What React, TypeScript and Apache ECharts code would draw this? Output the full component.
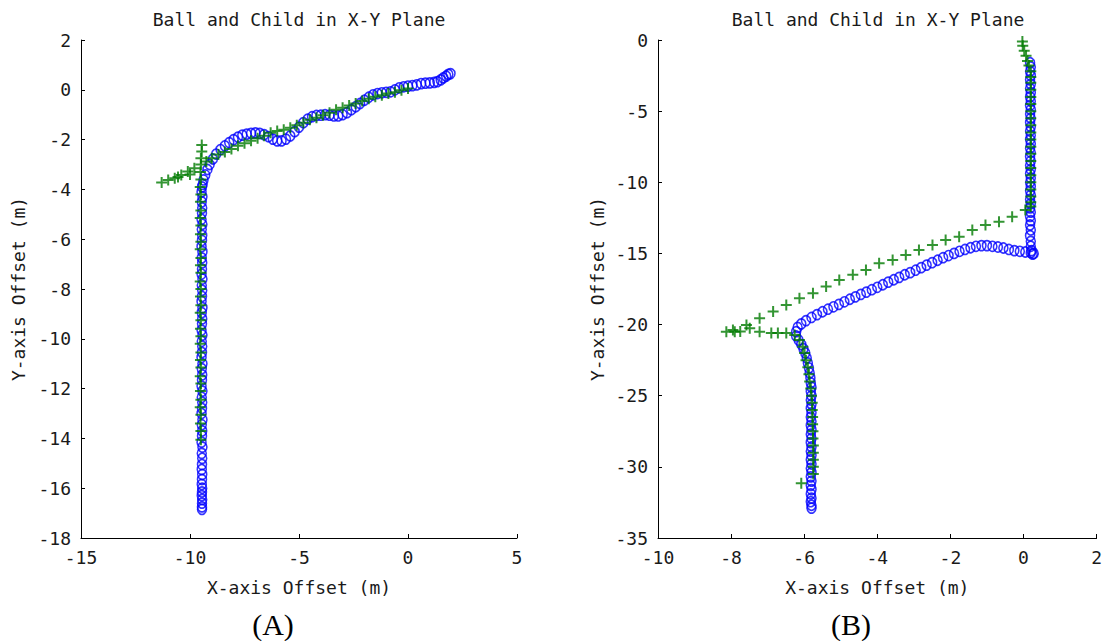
import React, { useEffect, useRef } from "react";
import * as echarts from "echarts";

const titleText = "Ball and Child in X-Y Plane";
const xName = "X-axis Offset (m)";
const yName = "Y-axis Offset (m)";
const captionA = "(A)";
const captionB = "(B)";

// Panel A – ball (blue circles)
const ballA: [number, number][] = [
  [1.95, 0.65], [1.85, 0.62], [1.75, 0.55], [1.62, 0.48], [1.5, 0.4], [1.35, 0.33], [1.2, 0.3],
  [1.0, 0.28], [0.8, 0.27], [0.6, 0.25], [0.4, 0.2], [0.2, 0.17], [0.0, 0.15], [-0.2, 0.12],
  [-0.4, 0.08], [-0.6, 0.0], [-0.8, -0.08], [-1.0, -0.1], [-1.2, -0.12], [-1.4, -0.15],
  [-1.6, -0.2], [-1.8, -0.3], [-2.0, -0.42], [-2.2, -0.55], [-2.4, -0.68], [-2.6, -0.8],
  [-2.8, -0.92], [-3.0, -1.0], [-3.2, -1.05], [-3.4, -1.05], [-3.6, -1.02], [-3.8, -1.0],
  [-4.0, -1.02], [-4.2, -1.03], [-4.4, -1.08], [-4.6, -1.18], [-4.8, -1.32], [-5.0, -1.5],
  [-5.2, -1.68], [-5.4, -1.85], [-5.6, -1.98], [-5.8, -2.05], [-6.0, -2.05], [-6.2, -1.98],
  [-6.4, -1.88], [-6.6, -1.8], [-6.8, -1.75], [-7.0, -1.73], [-7.2, -1.75], [-7.4, -1.78],
  [-7.6, -1.82], [-7.8, -1.9], [-8.0, -2.0], [-8.2, -2.12], [-8.4, -2.25], [-8.6, -2.4],
  [-8.8, -2.58], [-8.95, -2.78], [-9.1, -3.0], [-9.2, -3.2], [-9.3, -3.42], [-9.38, -3.62],
  [-9.42, -3.8],
  [-9.45, -3.9], [-9.47, -4.1], [-9.43, -4.3], [-9.46, -4.5], [-9.44, -4.75], [-9.45, -4.95],
  [-9.47, -5.2], [-9.43, -5.4], [-9.46, -5.6], [-9.44, -5.85], [-9.45, -6.05], [-9.47, -6.3],
  [-9.43, -6.5], [-9.46, -6.75], [-9.44, -6.95], [-9.45, -7.2], [-9.47, -7.4], [-9.43, -7.6],
  [-9.46, -7.85], [-9.44, -8.05], [-9.45, -8.3], [-9.47, -8.5], [-9.43, -8.75], [-9.46, -8.95],
  [-9.44, -9.2], [-9.45, -9.4], [-9.47, -9.65], [-9.43, -9.85], [-9.46, -10.1], [-9.44, -10.3],
  [-9.45, -10.55], [-9.47, -10.75], [-9.43, -11.0], [-9.46, -11.2], [-9.44, -11.45],
  [-9.45, -11.65], [-9.47, -11.9], [-9.43, -12.1], [-9.46, -12.35], [-9.44, -12.55],
  [-9.45, -12.8], [-9.47, -13.0], [-9.43, -13.25], [-9.46, -13.45], [-9.44, -13.7],
  [-9.45, -13.9], [-9.47, -14.15], [-9.43, -14.35], [-9.46, -14.6], [-9.44, -14.8],
  [-9.45, -15.05], [-9.46, -15.25], [-9.44, -15.45], [-9.45, -15.65], [-9.46, -15.85],
  [-9.44, -16.0], [-9.45, -16.15], [-9.46, -16.3], [-9.44, -16.45], [-9.45, -16.6],
  [-9.45, -16.75], [-9.45, -16.85],
];

// Panel A – child (green plus)
const childA: [number, number][] = [
  [0.0, 0.05], [-0.3, -0.02], [-0.6, -0.1], [-0.9, -0.15], [-1.2, -0.22], [-1.5, -0.28],
  [-1.8, -0.36], [-2.1, -0.45], [-2.4, -0.55], [-2.7, -0.63], [-3.0, -0.72], [-3.3, -0.8],
  [-3.6, -0.92], [-3.9, -1.02], [-4.2, -1.12], [-4.5, -1.2], [-4.8, -1.32], [-5.1, -1.42],
  [-5.4, -1.52], [-5.7, -1.6], [-6.0, -1.65], [-6.3, -1.72], [-6.6, -1.85], [-6.9, -1.95],
  [-7.2, -2.05], [-7.5, -2.15], [-7.8, -2.25], [-8.1, -2.38], [-8.4, -2.5], [-8.7, -2.6],
  [-9.0, -2.75], [-9.25, -2.88], [-9.5, -3.0], [-9.8, -3.15], [-10.1, -3.28], [-10.4, -3.42],
  [-10.55, -3.5], [-10.7, -3.55], [-11.0, -3.62], [-11.3, -3.72], [-10.0, -3.4],
  [-9.46, -2.22], [-9.46, -2.48], [-9.5, -2.75], [-9.52, -3.3], [-9.5, -3.6], [-9.53, -3.9],
  [-9.5, -4.2], [-9.52, -4.5], [-9.5, -4.85], [-9.53, -5.15], [-9.5, -5.45], [-9.52, -5.8],
  [-9.5, -6.1], [-9.53, -6.4], [-9.5, -6.75], [-9.52, -7.05], [-9.5, -7.35], [-9.53, -7.7],
  [-9.5, -8.0], [-9.52, -8.3], [-9.5, -8.65], [-9.53, -8.95], [-9.5, -9.25], [-9.52, -9.6],
  [-9.5, -9.9], [-9.53, -10.2], [-9.5, -10.55], [-9.52, -10.85], [-9.5, -11.15],
  [-9.53, -11.5], [-9.5, -11.8], [-9.52, -12.1], [-9.5, -12.45], [-9.53, -12.75],
  [-9.5, -13.05], [-9.52, -13.4], [-9.5, -13.7], [-9.5, -14.05],
];

// Panel B – ball (blue circles)
const ballB: [number, number][] = [
  [0.18, -1.6], [0.2, -1.9], [0.18, -2.2], [0.2, -2.5], [0.18, -2.8], [0.2, -3.1], [0.18, -3.4],
  [0.2, -3.7], [0.18, -4.0], [0.2, -4.3], [0.18, -4.6], [0.2, -4.9], [0.18, -5.2], [0.2, -5.5],
  [0.18, -5.8], [0.2, -6.1], [0.18, -6.4], [0.2, -6.7], [0.18, -7.0], [0.2, -7.3], [0.18, -7.6],
  [0.2, -7.9], [0.18, -8.2], [0.2, -8.5], [0.18, -8.8], [0.2, -9.1], [0.18, -9.4], [0.2, -9.7],
  [0.18, -10.0], [0.2, -10.3], [0.18, -10.6], [0.2, -10.9], [0.18, -11.2], [0.2, -11.5],
  [0.18, -11.8], [0.2, -12.1], [0.18, -12.4], [0.2, -12.7], [0.18, -13.0], [0.2, -13.35],
  [0.18, -13.75], [0.2, -14.15], [0.2, -14.5], [0.22, -14.8], [0.25, -15.05], [0.28, -15.0],
  [0.2, -14.95], [0.05, -14.9], [-0.1, -14.85], [-0.25, -14.8], [-0.4, -14.72], [-0.55, -14.62],
  [-0.7, -14.55], [-0.85, -14.5], [-1.0, -14.45], [-1.15, -14.45], [-1.3, -14.5], [-1.45, -14.6],
  [-1.6, -14.72], [-1.75, -14.85], [-1.9, -15.0], [-2.05, -15.15], [-2.2, -15.3], [-2.35, -15.48],
  [-2.5, -15.65], [-2.65, -15.82], [-2.8, -16.0], [-2.95, -16.18], [-3.1, -16.35], [-3.25, -16.5],
  [-3.4, -16.68], [-3.55, -16.85], [-3.7, -17.02], [-3.85, -17.2], [-4.0, -17.38], [-4.15, -17.55],
  [-4.3, -17.72], [-4.45, -17.88], [-4.6, -18.05], [-4.75, -18.22], [-4.9, -18.4], [-5.05, -18.58],
  [-5.2, -18.75], [-5.35, -18.92], [-5.5, -19.1], [-5.65, -19.3], [-5.8, -19.5], [-5.95, -19.72],
  [-6.08, -19.95], [-6.18, -20.2], [-6.22, -20.5], [-6.22, -20.8], [-6.15, -21.1], [-6.08, -21.4],
  [-6.02, -21.7], [-5.97, -22.0], [-5.93, -22.35], [-5.9, -22.7], [-5.87, -23.05], [-5.85, -23.4],
  [-5.83, -23.75], [-5.82, -24.1], [-5.8, -24.4], [-5.82, -24.7], [-5.8, -25.0], [-5.82, -25.3],
  [-5.8, -25.6], [-5.82, -25.9], [-5.8, -26.2], [-5.82, -26.5], [-5.8, -26.8], [-5.82, -27.1],
  [-5.8, -27.4], [-5.82, -27.7], [-5.8, -28.0], [-5.82, -28.3], [-5.8, -28.6], [-5.82, -28.9],
  [-5.8, -29.2], [-5.82, -29.5], [-5.8, -29.8], [-5.82, -30.1], [-5.8, -30.4], [-5.82, -30.7],
  [-5.8, -31.0], [-5.82, -31.3], [-5.8, -31.6], [-5.82, -31.9], [-5.8, -32.2], [-5.82, -32.45],
  [-5.8, -32.7], [-5.8, -32.9],
];

// Panel B – child (green plus)
const childB: [number, number][] = [
  [-0.05, 0.15], [-0.03, -0.1], [-0.02, -0.4], [0.02, -0.75], [0.07, -1.1], [0.11, -1.48],
  [0.15, -1.8], [0.2, -2.2], [0.2, -2.6], [0.2, -3.0], [0.2, -3.5], [0.2, -4.0], [0.2, -4.5],
  [0.2, -5.0], [0.2, -5.5], [0.2, -6.0], [0.2, -6.5], [0.2, -7.0], [0.2, -7.5], [0.2, -8.0],
  [0.2, -8.5], [0.2, -9.0], [0.2, -9.5], [0.2, -10.0], [0.2, -10.5], [0.2, -11.0], [0.2, -11.4],
  [0.2, -11.7], [0.05, -11.95], [-0.31, -12.42], [-0.67, -12.77], [-1.04, -13.0], [-1.4, -13.35],
  [-1.76, -13.82], [-2.13, -14.05], [-2.49, -14.4], [-2.86, -14.76], [-3.22, -15.11],
  [-3.58, -15.46], [-3.95, -15.69], [-4.31, -16.16], [-4.67, -16.5], [-5.04, -16.87],
  [-5.4, -17.33], [-5.76, -17.8], [-6.13, -18.15], [-6.49, -18.62], [-6.85, -19.09],
  [-7.22, -19.56], [-7.58, -20.03], [-7.95, -20.38], [-8.13, -20.5], [-7.9, -20.5],
  [-7.75, -20.48], [-7.49, -20.26], [-7.22, -20.5], [-6.9, -20.6], [-6.72, -20.6],
  [-6.49, -20.6], [-6.26, -20.73], [-6.13, -21.08], [-6.04, -21.55], [-5.99, -22.0],
  [-5.95, -22.5], [-5.9, -23.0], [-5.87, -23.5], [-5.85, -24.0], [-5.82, -24.5], [-5.8, -25.0],
  [-5.78, -25.5], [-5.78, -26.0], [-5.77, -26.5], [-5.77, -27.0], [-5.76, -27.5], [-5.76, -28.0],
  [-5.75, -28.5], [-5.75, -29.0], [-5.75, -29.5], [-5.75, -30.0], [-5.75, -30.5], [-6.08, -31.15],
];

const monoFont = "DejaVu Sans Mono";
const textColor = "#1a1a1a";

function axisCommon() {
  return {
    type: "value" as const,
    splitLine: { show: false },
    axisLine: { show: true, onZero: false, lineStyle: { color: "#000", width: 1 } },
    axisTick: { show: true, inside: true, length: 4, lineStyle: { color: "#000" } },
    axisLabel: { color: textColor, fontFamily: monoFont, fontSize: 18, margin: 10 },
    nameTextStyle: { color: textColor, fontFamily: monoFont, fontSize: 18 },
  };
}

const plusSymbol = "path://M0,5L10,5M5,0L5,10";

export default function App() {
  const ref = useRef<HTMLDivElement>(null);
  useEffect(() => {
    if (!ref.current) return;
    const chart = echarts.init(ref.current, undefined, { renderer: "svg" });
    const circleStyle = { color: "rgba(0,0,0,0)", borderColor: "#0000ff", borderWidth: 1.6 };
    const plusStyle = { color: "none", borderColor: "#007a00", borderWidth: 2 };
    chart.setOption({
      animation: false,
      backgroundColor: "#fff",
      grid: [
        { left: 81, top: 40, width: 436, height: 498 },
        { left: 658, top: 40, width: 440, height: 498 },
      ],
      xAxis: [
        { ...axisCommon(), gridIndex: 0, min: -15, max: 5, interval: 5, name: xName, nameLocation: "middle", nameGap: 40 },
        { ...axisCommon(), gridIndex: 1, min: -10, max: 2, interval: 2, name: xName, nameLocation: "middle", nameGap: 40 },
      ],
      yAxis: [
        { ...axisCommon(), gridIndex: 0, min: -18, max: 2, interval: 2, name: yName, nameLocation: "middle", nameRotate: 90, nameGap: 54 },
        { ...axisCommon(), gridIndex: 1, min: -35, max: 0, interval: 5, name: yName, nameLocation: "middle", nameRotate: 90, nameGap: 52 },
      ],
      series: [
        { type: "scatter", xAxisIndex: 0, yAxisIndex: 0, data: ballA, symbol: "circle", symbolSize: [9, 10], itemStyle: circleStyle, silent: true },
        { type: "scatter", xAxisIndex: 0, yAxisIndex: 0, data: childA, symbol: plusSymbol, symbolSize: 11, itemStyle: plusStyle, silent: true },
        { type: "scatter", xAxisIndex: 1, yAxisIndex: 1, data: ballB, symbol: "circle", symbolSize: [9, 10], itemStyle: circleStyle, silent: true },
        { type: "scatter", xAxisIndex: 1, yAxisIndex: 1, data: childB, symbol: plusSymbol, symbolSize: 11, itemStyle: plusStyle, silent: true },
      ],
      graphic: [
        { type: "text", x: 299, y: 19, style: { text: titleText, fill: textColor, font: `18px "${monoFont}"`, textAlign: "center", textVerticalAlign: "middle" } },
        { type: "text", x: 878, y: 19, style: { text: titleText, fill: textColor, font: `18px "${monoFont}"`, textAlign: "center", textVerticalAlign: "middle" } },
        { type: "text", x: 273, y: 624, style: { text: captionA, fill: "#000", font: `30px "Liberation Serif"`, textAlign: "center", textVerticalAlign: "middle" } },
        { type: "text", x: 851, y: 624, style: { text: captionB, fill: "#000", font: `30px "Liberation Serif"`, textAlign: "center", textVerticalAlign: "middle" } },
      ],
    });
    return () => chart.dispose();
  }, []);
  return (
    <div
      ref={ref}
      style={{ position: "fixed", left: 0, top: 0, width: 1105, height: 641, background: "#fff" }}
    />
  );
}
